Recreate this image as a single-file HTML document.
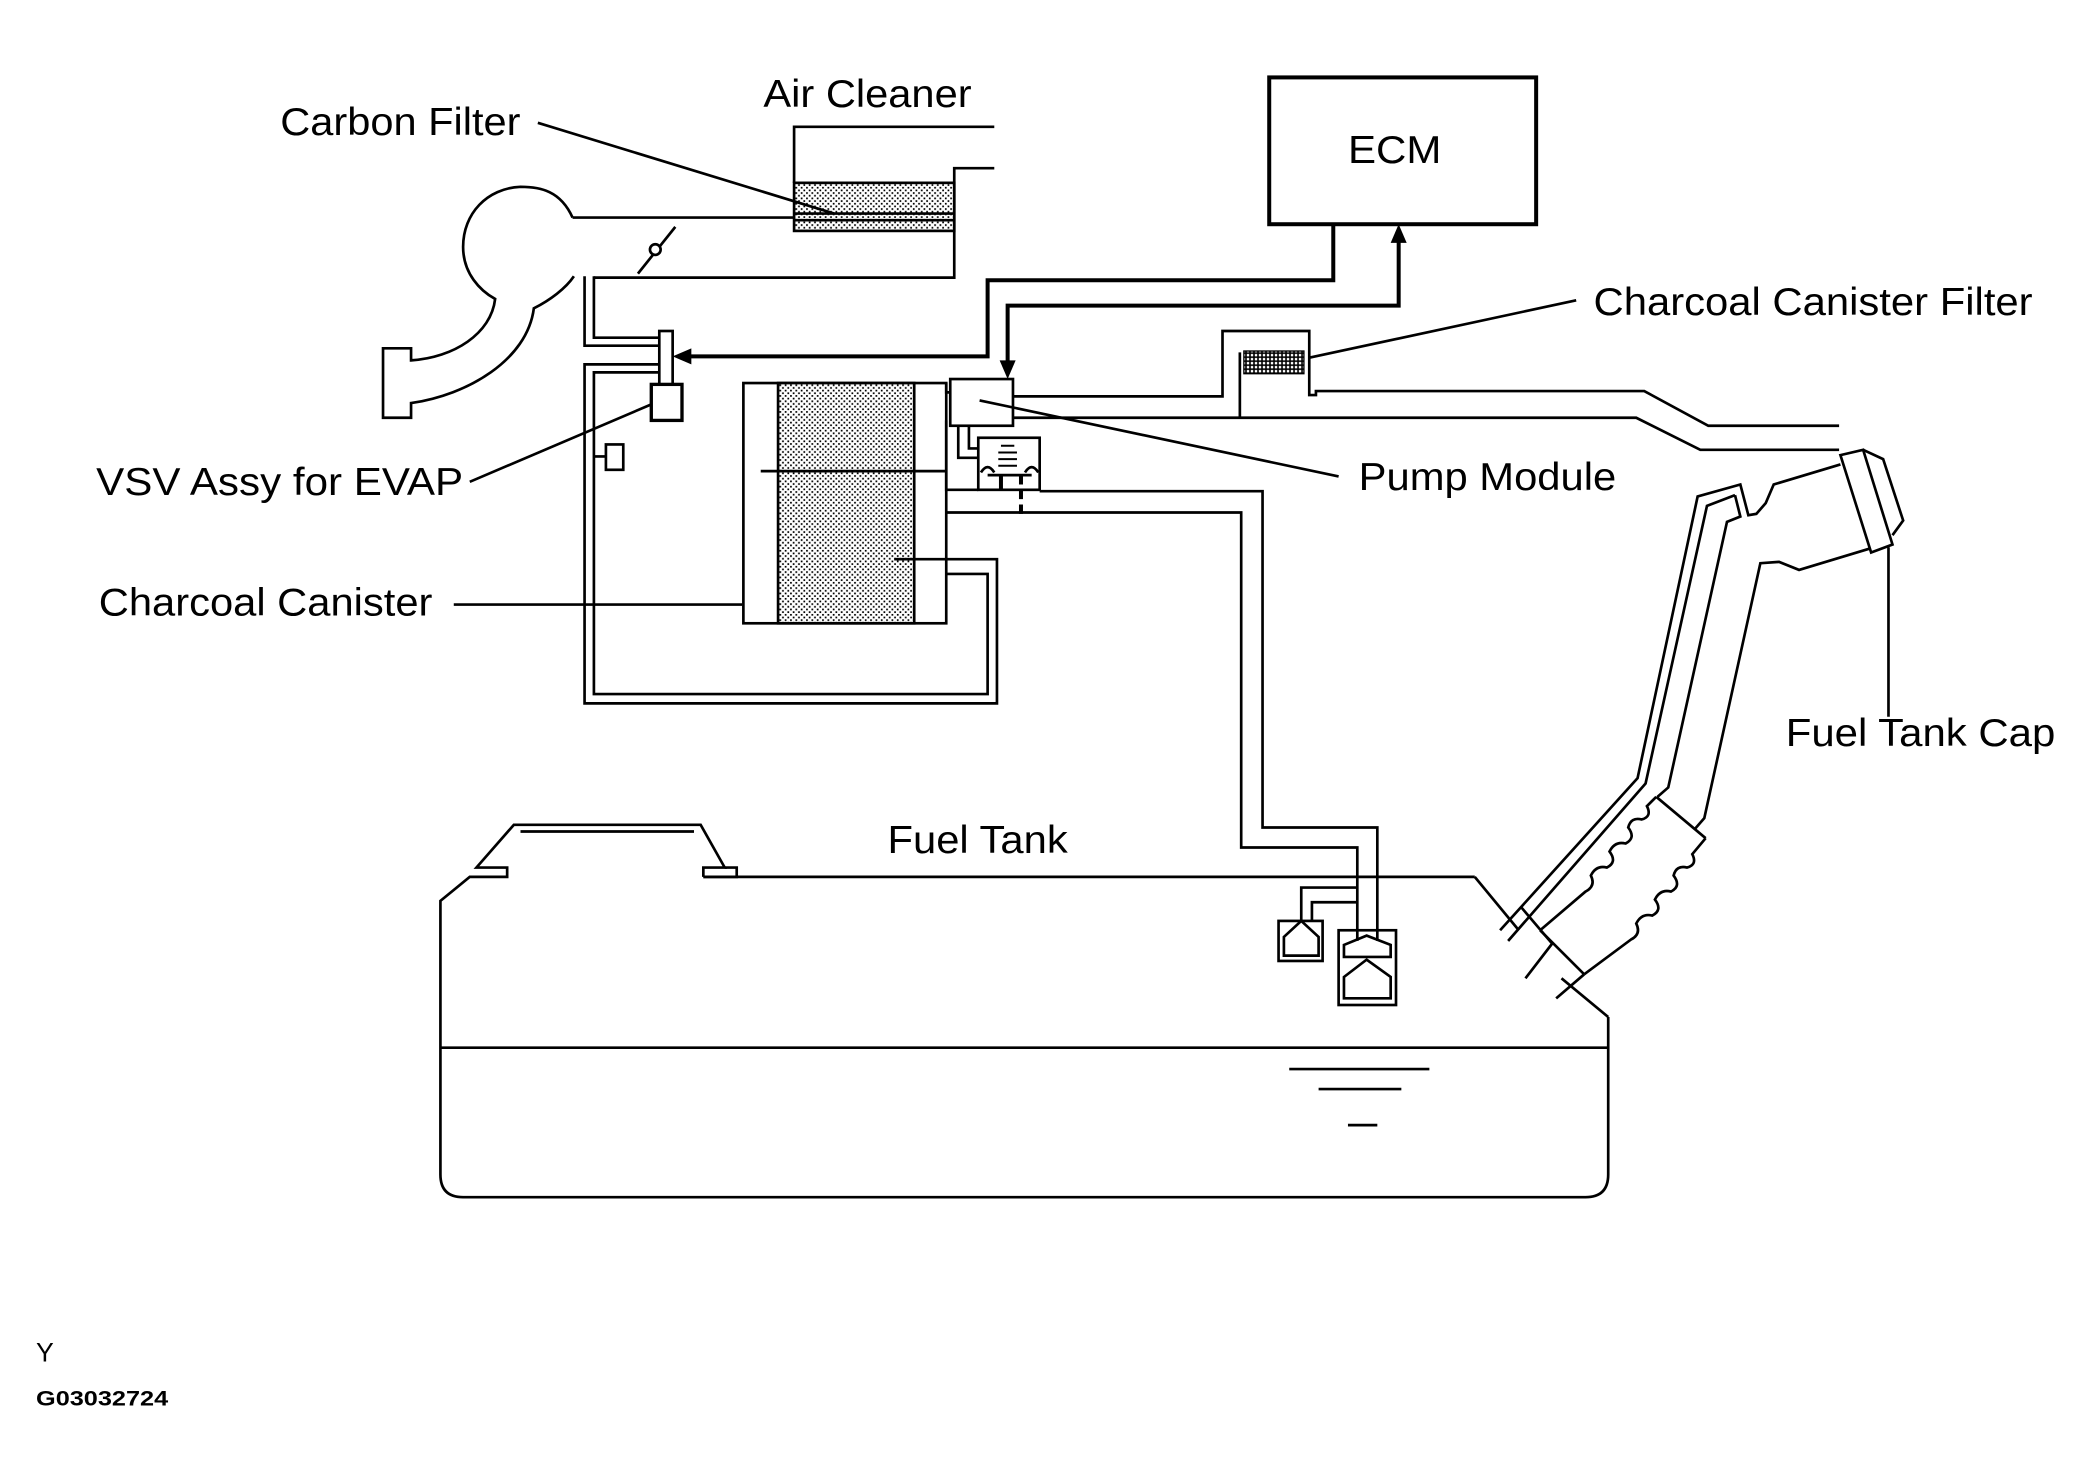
<!DOCTYPE html>
<html><head><meta charset="utf-8"><style>
html,body{margin:0;padding:0;background:#fff;}
svg{display:block;}
text{font-family:"Liberation Sans",sans-serif;fill:#000;}
</style></head><body>
<svg width="2082" height="1474" viewBox="0 0 1560 1104.4" preserveAspectRatio="none" xmlns="http://www.w3.org/2000/svg">
<defs>
<pattern id="dots" width="4" height="4" patternUnits="userSpaceOnUse"><rect width="4" height="4" fill="#fff"/><rect x="0" y="0" width="1.3" height="1.3" fill="#000"/><rect x="2" y="2" width="1.3" height="1.3" fill="#000"/></pattern>
<pattern id="mesh" width="3" height="3" patternUnits="userSpaceOnUse"><rect width="3" height="3" fill="#fff"/><rect width="3" height="1.2" fill="#000"/><rect width="1.2" height="3" fill="#000"/></pattern>
</defs>
<g fill="none" stroke="#000" stroke-width="2">
<!-- air cleaner -->
<path d="M745,95 L595,95 L595,137"/>
<path d="M745,126 L715,126 L715,208 L445,208"/>
<rect x="595" y="137" width="120" height="36" fill="url(#dots)"/>
<line x1="595" y1="160" x2="715" y2="160"/><line x1="595" y1="165" x2="715" y2="165"/>
<line x1="429" y1="163" x2="595" y2="163"/>
<line x1="478" y1="205" x2="506" y2="170"/><circle cx="491" cy="187" r="4" fill="#fff"/>
<line x1="403" y1="92" x2="625" y2="160"/>
<!-- manifold -->
<path d="M429,163 C420,143 405,140 390,140 C365,141 347,160 347,185 C347,205 360,218 371,224 C368,250 340,268 308,270 L308,261 L287,261 L287,313 L308,313 L308,302 C350,296 395,270 400,231 C412,225 424,216 430,207"/>
<!-- vsv -->
<path d="M438,207 L438,259 L494,259"/><path d="M445,207 L445,253 L494,253"/>
<rect x="494" y="248" width="10" height="40" fill="#fff"/>
<rect x="488" y="288" width="23" height="27" stroke-width="2.5" fill="#fff"/>
<path d="M709,419 L747,419 L747,527 L438,527 L438,273 L494,273"/>
<path d="M709,430 L740,430 L740,520 L445,520 L445,279 L494,279"/>
<rect x="454" y="333" width="13" height="19" fill="#fff"/><line x1="445" y1="342" x2="454" y2="342"/>
<line x1="352" y1="361" x2="488" y2="303"/>
<!-- canister -->
<rect x="557" y="287" width="152" height="180"/>
<rect x="583" y="287" width="102" height="180" fill="url(#dots)"/>
<line x1="570" y1="353" x2="709" y2="353"/>
<line x1="670" y1="419" x2="709" y2="419"/>
<line x1="340" y1="453" x2="556" y2="453"/>
<!-- pump module -->
<rect x="712" y="284" width="47" height="35" fill="#fff"/>
<path d="M709,287 L709,294 L712,294"/>
<path d="M709,315 L709,367 L733,367"/>
<path d="M718,319 L718,343 L733,343"/>
<path d="M726,319 L726,336 L733,336"/>
<rect x="733" y="328" width="46" height="39" fill="#fff"/>
<path d="M735,354 q5,-8 10,0 M768,354 q5,-8 10,0" />
<line x1="740" y1="356" x2="773" y2="356"/>
<path d="M750,334 h10 M748,339 h14 M748,344 h14 M748,349 h14" stroke-width="1.5"/>
<line x1="750" y1="356" x2="750" y2="367" stroke-width="3"/>
<line x1="765" y1="356" x2="765" y2="385" stroke-width="3" stroke-dasharray="7,4"/>
<path d="M779,368 L946,368 L946,620 L1032,620 L1032,705"/>
<path d="M709,384 L930,384 L930,635 L1017,635 L1017,705"/>
<line x1="734" y1="300" x2="1003" y2="357"/>
<!-- vent -->
<path d="M759,297 L916,297 L916,248 L981,248 L981,296 L986,296 L986,293 L1232,293 L1280,319 L1378,319"/>
<path d="M759,313 L1226,313 L1274,337 L1378,337"/>
<line x1="929" y1="264" x2="929" y2="313"/>
<rect x="932" y="263" width="45" height="17" fill="url(#mesh)" stroke-width="1"/>
<line x1="981" y1="268" x2="1181" y2="225"/>
<!-- ECM -->
<rect x="951" y="58" width="200" height="110" stroke-width="3"/>
<path d="M999,168 L999,210 L740,210 L740,267 L510,267" stroke-width="3"/>
<path d="M755,276 L755,229 L1048,229 L1048,180" stroke-width="3"/>
</g>
<polygon points="504,267 518,261 518,273" fill="#000"/>
<polygon points="755,284 749,270 761,270" fill="#000"/>
<polygon points="1048,168 1042,182 1054,182" fill="#000"/>
<g fill="none" stroke="#000" stroke-width="2">
<!-- filler neck -->
<path d="M1379,341 L1396,337 L1418,408 L1402,414 Z" fill="#fff"/>
<path d="M1396,337 L1411,344 L1426,390 L1418,401"/>
<line x1="1415" y1="410" x2="1415" y2="537"/>
<path d="M1379,348 L1329,363 L1323,377 L1316,385 L1310,386 L1304,363 L1272,372 L1227,583 L1124,697"/>
<path d="M1300,371 L1279,379 L1233,587 L1130,705"/>
<path d="M1300,371 L1304,387 L1294,391 L1250,590 L1242,597"/>
<path d="M1401,411 L1348,427 L1333,421 L1319,422 L1277,613 L1270,621"/>
<path d="M1241,597 L1278,628"/>
<path d="M1154,697 L1187,730"/>
<path d="M1241,597 L1234,604 q4,8 -4,10 q-8,-2 -10,6 q6,8 -2,12 q-8,-2 -12,6 q6,8 -2,12 q-8,-2 -12,6 q4,8 -4,12 L1154,697"/>
<path d="M1278,628 L1268,640 q4,8 -4,10 q-8,-2 -10,6 q6,8 -2,12 q-8,-2 -12,6 q6,8 -2,12 q-8,-2 -12,6 q4,8 -4,12 L1187,730"/>
<path d="M1140,680 L1163,707 L1143,733"/>
<path d="M1187,730 L1166,748"/>
<path d="M1170,733 L1205,762"/>
<!-- tank -->
<path d="M1105,657 L1138,697"/>
<path d="M527,657 L1105,657"/>
<path d="M1205,762 L1205,880 Q1205,897 1188,897 L347,897 Q330,897 330,880 L330,675 L352,657 L380,657 L380,650 L357,650 L385,618 L525,618 L543,650 L527,650 L527,657"/>
<path d="M543,650 L552,650 L552,657 L527,657"/>
<line x1="390" y1="623" x2="520" y2="623"/>
<line x1="330" y1="785" x2="1205" y2="785"/>
<line x1="966" y1="801" x2="1071" y2="801"/>
<line x1="988" y1="816" x2="1050" y2="816"/>
<line x1="1010" y1="843" x2="1032" y2="843"/>
<!-- floats -->
<rect x="958" y="690" width="33" height="30"/>
<path d="M962,716 L962,702 L975,690 L988,702 L988,716 Z"/>
<path d="M1017,665 L975,665 L975,690"/><path d="M1017,676 L983,676 L983,690"/>
<rect x="1003" y="697" width="43" height="56"/>
<path d="M1007,708 L1024,701 L1042,708 L1042,717 L1007,717 Z"/>
<path d="M1007,748 L1007,732 L1024,719 L1042,732 L1042,748 Z"/>
</g>
<g font-size="29" lengthAdjust="spacingAndGlyphs">
<text x="210" y="101" textLength="180" lengthAdjust="spacingAndGlyphs">Carbon Filter</text>
<text x="572" y="80" textLength="156" lengthAdjust="spacingAndGlyphs">Air Cleaner</text>
<text x="1010" y="122" textLength="70" lengthAdjust="spacingAndGlyphs">ECM</text>
<text x="1194" y="236" textLength="329" lengthAdjust="spacingAndGlyphs">Charcoal Canister Filter</text>
<text x="1018" y="367" textLength="193" lengthAdjust="spacingAndGlyphs">Pump Module</text>
<text x="72" y="371" textLength="275" lengthAdjust="spacingAndGlyphs">VSV Assy for EVAP</text>
<text x="74" y="461" textLength="250" lengthAdjust="spacingAndGlyphs">Charcoal Canister</text>
<text x="1338" y="559" textLength="202" lengthAdjust="spacingAndGlyphs">Fuel Tank Cap</text>
<text x="665" y="639" textLength="135" lengthAdjust="spacingAndGlyphs">Fuel Tank</text>
</g>
<text x="27" y="1020" font-size="20">Y</text>
<text x="27" y="1053" font-size="16" font-weight="bold" textLength="99" lengthAdjust="spacingAndGlyphs">G03032724</text>
</svg>
</body></html>
